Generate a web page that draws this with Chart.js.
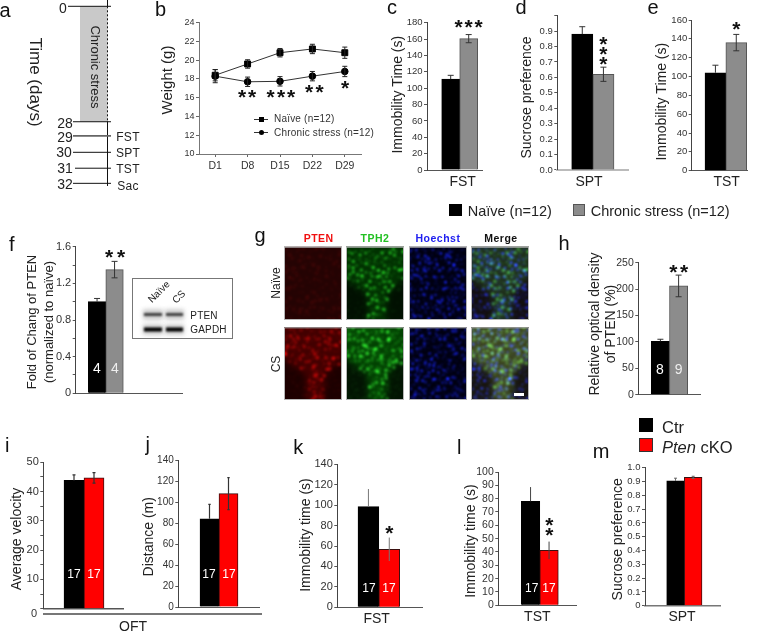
<!DOCTYPE html>
<html><head><meta charset="utf-8">
<script src="https://cdn.jsdelivr.net/npm/chart.js@4"></script>
<style>
html,body{margin:0;padding:0;background:#fff}
#page{position:relative;width:759px;height:631px;overflow:hidden;font-family:"Liberation Sans",Arial,sans-serif}
#page canvas{position:absolute;left:0;top:0}
.n{position:absolute;white-space:nowrap;line-height:1;color:#222;z-index:30}
.sw{position:absolute;z-index:30;box-sizing:border-box}
#blot{position:absolute;left:132px;top:278px;width:101px;height:61px;box-sizing:border-box;border:1.5px solid #777;background:#fff}
</style></head><body><div id="page"><div id="blot"></div></div>
<script>
// ---------- data ----------
const timelineDays=['0','28','29','30','31','32'];
const timelineRows=[0,7.33,8.23,9.27,10.28,11.24];
const timelineStart=[68,73,73,73,75,73];
const timelineTests=['','','FST','SPT','TST','Sac'];

const weekLabels=['D1','D8','D15','D22','D29'];
const weightNaive=[18.4,19.6,20.8,21.2,20.8];
const weightNaiveErr=[0.6,0.45,0.45,0.5,0.6];
const weightStress=[18.3,17.7,17.75,18.3,18.8];
const weightStressErr=[0.7,0.5,0.5,0.5,0.55];
const weightTicks=[10,12,14,16,18,20,22,24];

const stressGroups=['Naïve','Chronic stress'];
const ckoGroups=['Ctr','Pten cKO'];

const fstStress=[111,160.5], fstStressErr=[4.7,5];
const fstStressTicks=[0,20,40,60,80,100,120,140,160,180];
const sptStress=[0.88,0.62], sptStressErr=[0.048,0.046];
const sptStressTicks=[0,.1,.2,.3,.4,.5,.6,.7,.8,.9,1];
const sptStressLabels=['0.0','0.1','0.2','0.3','0.4','0.5','0.6','0.7','0.8','0.9',''];
const tstStress=[104,136], tstStressErr=[8,8.7];
const tstStressTicks=[0,20,40,60,80,100,120,140,160];

const ptenBlot=[1.0,1.35], ptenBlotErr=[0.035,0.09];
const ptenBlotTicks=[0,.2,.4,.6,.8,1,1.2,1.4,1.6];
const ptenBlotLabels=['0','','0.4','','0.8','','1.2','','1.6'];
const ptenDensity=[101,206], ptenDensityErr=[4,20.5];
const ptenDensityTicks=[0,50,100,150,200,250];

const velocity=[43.8,44.7], velocityErr=[1.9,1.8];
const velocityTicks=[0,5,10,15,20,25,30,35,40,45,50];
const velocityLabels=['','','10','','20','','30','','40','','50'];
const distance=[84,108], distanceErr=[13.7,15.3];
const distanceTicks=[0,20,40,60,80,100,120,140];
const fstCko=[98.5,56.8], fstCkoErr=[17.3,11.5];
const fstCkoTicks=[0,20,40,60,80,100,120,140];
const tstCko=[78,41.2], tstCkoErr=[10.7,6.6];
const tstCkoTicks=[0,10,20,30,40,50,60,70,80,90,100];
const sptCko=[0.904,0.93], sptCkoErr=[0.02,0.008];
const sptCkoTicks=[0,.1,.2,.3,.4,.5,.6,.7,.8,.9,1];
const sptCkoLabels=['0','0.1','0.2','0.3','0.4','0.5','0.6','0.7','0.8','0.9','1.0'];

// ---------- helpers ----------
const page=document.getElementById('page');
const FONT='"Liberation Sans", Arial, sans-serif';
function newCanvas(z){const c=document.createElement('canvas');c.width=759;c.height=631;c.style.zIndex=z;page.appendChild(c);return c;}
function note(t,x,y,o={}){
  const s=document.createElement('span');s.className='n';s.innerHTML=t;
  s.style.left=x+'px';s.style.top=y+'px';
  s.style.fontSize=(o.size||12)+'px';
  if(o.color)s.style.color=o.color;
  if(o.weight)s.style.fontWeight=o.weight;
  if(o.spacing)s.style.letterSpacing=o.spacing+'px';
  const tx=o.left?'0':'-50%';
  s.style.transform=`translate(${tx},-50%)`+(o.rot?` rotate(${o.rot}deg)`:'');
  page.appendChild(s);
}
function letter(t,x,base){note(t,x,base-0.346*20,{size:20,color:'#111'});}
function stars(xs,ys){xs.forEach((x,i)=>note('*',x,ys[i]+1.8,{size:21,color:'#111',weight:'bold'}));}
function swatch(x,y,w,h,bg,bd){const d=document.createElement('div');d.className='sw';
  Object.assign(d.style,{left:x+'px',top:y+'px',width:w+'px',height:h+'px',background:bg,border:bd?('1px solid '+bd):'none'});page.appendChild(d);return d;}
function pinTitle(s,cx,cy){
  if(s._pinned)return;s._pinned=true;const o=s.drawTitle;
  s.drawTitle=function(){const c=this.ctx,f=Chart.helpers.toFont(this.options.title.font);
    const left=this.position==='left';
    const nx=left?this.left+f.lineHeight/2:(this.left+this.right)/2;
    const ny=left?(this.top+this.bottom)/2:this.bottom-f.lineHeight/2;
    c.save();c.translate(cx-nx,cy-ny);o.call(this);c.restore();};
}
const errorBars={id:'errorBars',afterDatasetsDraw(chart){
  const {ctx,scales:{x,y}}=chart;
  chart.data.datasets.forEach((d,di)=>{
    if(!d.err)return;
    d.data.forEach((p,i)=>{
      const v=typeof p==='object'?p.y:p;
      const px=chart.getDatasetMeta(di).data[i].x;
      const hi=y.getPixelForValue(v+d.err[i]),lo=y.getPixelForValue(v-d.err[i]),mid=y.getPixelForValue(v);
      const bg=Array.isArray(d.backgroundColor)?d.backgroundColor[i]:null;
      const showLow=d.showLow||bg!=='#000000';
      const capW=d.errCap==null?3:d.errCap;
      ctx.save();ctx.strokeStyle=d.errColor||'#333';ctx.lineWidth=d.errWidth||1;ctx.beginPath();
      const bottom=showLow?lo:mid;
      ctx.moveTo(px,hi);ctx.lineTo(px,bottom);
      if(capW){ctx.moveTo(px-capW,hi);ctx.lineTo(px+capW,hi);
      if(showLow){ctx.moveTo(px-capW,lo);ctx.lineTo(px+capW,lo);}}
      ctx.stroke();ctx.restore();
    });
  });
}};
const SCALE_W=30,SCALE_H=30;
function tickOptions(vals,labs,size){
  return {autoSkip:false,padding:1.5,color:'#333',font:{family:FONT,size:size},
    callback:(v,i)=>labs?labs[i]:String(vals[i])};
}
function barPanel(p){
  const w=(p.barR-p.barL)/2;
  const xMin=1-(p.barL+w/2-p.axisX)/w, xMax=1+(p.xEnd-p.barL-w/2)/w;
  new Chart(newCanvas(10),{type:'bar',plugins:[errorBars],
   data:{labels:p.cats,datasets:[{
     label:p.title.join(' '),
     data:p.values.map((v,i)=>({x:i+1,y:v})),
     backgroundColor:p.colors,borderColor:p.borders,borderWidth:1,
     barThickness:w,err:p.err,errColor:p.errColor,errCap:p.errCap,errWidth:p.errWidth}]},
   options:{responsive:false,animation:false,devicePixelRatio:1,
    layout:{autoPadding:false,padding:{left:p.axisX-SCALE_W,right:759-p.xEnd,top:p.yTop,bottom:631-p.yBottom-SCALE_H}},
    plugins:{legend:{display:false},tooltip:{enabled:false},title:{display:false}},
    scales:{
     x:{type:'linear',offset:false,min:xMin,max:xMax,grid:{display:false,offset:false},
        ticks:{display:false},
        border:{color:p.xAxisColor||'#555',width:p.xAxisWidth||1},
        title:p.xLabel?{display:true,text:p.xLabel,padding:0,color:'#222',font:{family:FONT,size:14}}:{display:false},
        afterFit(s){s.height=SCALE_H;if(p.xLabel)pinTitle(s,p.xLabelPos[0],p.xLabelPos[1]);}},
     y:{type:'linear',min:p.tickVals[0],max:p.tickVals[p.tickVals.length-1],
        grid:{drawOnChartArea:false,drawTicks:true,tickLength:p.tickLen||3,color:'#555',tickColor:'#555'},
        border:{color:'#444',width:1},
        ticks:tickOptions(p.tickVals,p.tickLabels,p.tickSize||10),
        afterBuildTicks(s){s.ticks=p.tickVals.map(v=>({value:v}));},
        title:{display:true,text:p.title.length>1?p.title:p.title[0],padding:0,color:'#222',
               font:{family:FONT,size:p.titleSize||14,lineHeight:p.titleLH||1.2}},
        afterFit(s){s.width=SCALE_W;pinTitle(s,p.titlePos[0],p.titlePos[1]);}}
    }}});
}
const BLACK='#000000',GRAY='#8c8c8c',GRAYB='#555555',RED='#ff0000',REDB='#3a1010';

// ---------- panel a ----------
const aSets=timelineRows.map((r,i)=>({data:[{x:timelineStart[i],y:r},{x:111,y:r}],showLine:true,pointRadius:0,
   borderColor:i===2?'#666':'#111',borderWidth:i===2?1.6:1}));
aSets.push({data:[{x:107.5,y:-0.4},{x:107.5,y:0}],showLine:true,pointRadius:0,borderColor:'#111',borderWidth:1});
aSets.push({data:[{x:107.5,y:0},{x:107.5,y:timelineRows[1]}],showLine:true,pointRadius:0,borderColor:'#111',borderWidth:1,borderDash:[2,2]});
aSets.push({data:[{x:107.5,y:timelineRows[1]},{x:107.5,y:11.4}],showLine:true,pointRadius:0,borderColor:'#111',borderWidth:1});
new Chart(newCanvas(10),{type:'scatter',
 plugins:[{id:'stressBand',beforeDatasetsDraw(c){const {ctx,scales:{x,y}}=c;ctx.save();ctx.fillStyle='#c9c9c9';
   ctx.fillRect(x.getPixelForValue(80),y.getPixelForValue(0),x.getPixelForValue(107.5)-x.getPixelForValue(80),y.getPixelForValue(timelineRows[1])-y.getPixelForValue(0));ctx.restore();}}],
 data:{datasets:aSets},
 options:{responsive:false,animation:false,devicePixelRatio:1,
  layout:{autoPadding:false,padding:{left:60,right:759-115,top:0,bottom:631-185.85}},
  plugins:{legend:{display:false},tooltip:{enabled:false}},
  scales:{x:{type:'linear',min:60,max:115,display:false},y:{type:'linear',min:-0.4,max:11.4,reverse:true,display:false}}}});
const aLabelX=[63,65,65,64,65,65], aLabelY=[8,123,137,152,168,184], aTestY=[0,0,137,153,169,186];
timelineDays.forEach((d,i)=>{note(d,aLabelX[i],aLabelY[i],{size:14,color:'#222'});
  if(timelineTests[i])note(timelineTests[i],128,aTestY[i],{size:12,color:'#222',spacing:.3});});
note('Time (days)',35,82,{size:17,rot:90,color:'#222'});
note('Chronic stress',95,67,{size:13,rot:90,color:'#222'});

// ---------- panel b ----------
new Chart(newCanvas(10),{type:'line',plugins:[errorBars],
 data:{labels:weekLabels,datasets:[
  {label:'Naïve (n=12)',data:weightNaive,err:weightNaiveErr,errCap:2.5,showLow:true,errColor:'#222',borderColor:'#333',borderWidth:1,tension:0,
   pointStyle:'rect',pointRadius:4.2,pointBackgroundColor:'#000',pointBorderColor:'#000'},
  {label:'Chronic stress (n=12)',data:weightStress,err:weightStressErr,errCap:2.5,showLow:true,errColor:'#222',borderColor:'#333',borderWidth:1,tension:0,
   pointStyle:'circle',pointRadius:3.3,pointBackgroundColor:'#000',pointBorderColor:'#000'}]},
 options:{responsive:false,animation:false,devicePixelRatio:1,
  layout:{autoPadding:false,padding:{left:199-SCALE_W,right:759-361,top:22.7,bottom:631-154-SCALE_H}},
  plugins:{legend:{display:false},tooltip:{enabled:false}},
  scales:{
   x:{type:'category',offset:true,grid:{drawOnChartArea:false,drawTicks:true,tickLength:3,tickColor:'#666',offset:false},
      border:{color:'#777',width:1},
      ticks:{color:'#333',padding:3,maxRotation:0,font:{family:FONT,size:10.5}},
      afterFit(s){s.height=SCALE_H;}},
   y:{type:'linear',min:10,max:24,grid:{drawOnChartArea:false,drawTicks:true,tickLength:3,tickColor:'#666'},
      border:{color:'#777',width:1},
      ticks:tickOptions(weightTicks,null,9),
      afterBuildTicks(s){s.ticks=weightTicks.map(v=>({value:v}));},
      title:{display:true,text:'Weight (g)',padding:0,color:'#222',font:{family:FONT,size:15}},
      afterFit(s){s.width=SCALE_W;pinTitle(s,168,80);}}
  }}});
swatch(254,118.5,14,1,'#333');swatch(258.5,116.5,5,5,'#000');
swatch(254,132,14,1,'#333');swatch(258.5,130,5,5,'#000').style.borderRadius='50%';
note('Naïve (n=12)',274,119,{size:10,left:true,color:'#333',spacing:.2});
note('Chronic stress (n=12)',274,132.5,{size:10,left:true,color:'#333',spacing:.2});
stars([242,252],[94,94]);stars([270.5,281,291],[94,94,94]);stars([309,319.5],[89,89]);stars([345],[85]);

// ---------- panels c d e ----------
barPanel({cats:stressGroups,values:fstStress,err:fstStressErr,colors:[BLACK,GRAY],borders:[BLACK,GRAYB],
 axisX:427,xEnd:482,yTop:22.7,yBottom:170,barL:441.7,barR:477.7,tickVals:fstStressTicks,tickSize:9.5,
 title:['Immobility Time (s)'],titlePos:[398,94.7],xLabel:'FST',xLabelPos:[462.7,181.7]});
barPanel({cats:stressGroups,values:sptStress,err:sptStressErr,colors:[BLACK,GRAY],borders:[BLACK,GRAYB],
 axisX:557.3,xEnd:628,yTop:15.6,yBottom:170,barL:571.7,barR:614,tickVals:sptStressTicks,tickLabels:sptStressLabels,tickSize:9.5,
 xAxisColor:'#bbb',xAxisWidth:2,
 title:['Sucrose preference'],titlePos:[526.7,97.5],xLabel:'SPT',xLabelPos:[589,181.7]});
barPanel({cats:stressGroups,values:tstStress,err:tstStressErr,colors:[BLACK,GRAY],borders:[BLACK,GRAYB],
 axisX:691.7,xEnd:747,yTop:20,yBottom:170.7,barL:705,barR:746.7,tickVals:tstStressTicks,tickSize:9.5,
 title:['Immobility Time (s)'],titlePos:[661.7,101.7],xLabel:'TST',xLabelPos:[726.7,181.7]});
stars([458.5,468.7,478.5],[24,24,24]);
stars([603.3,603.3,603.3],[40.7,50.7,60.7]);
stars([736.3],[26]);
swatch(449.3,204,12.4,12,'#000');
note(stressGroups[0]+' (n=12)',467.7,211,{size:14.5,left:true,color:'#222'});
swatch(572.7,204,12.4,12,GRAY,GRAYB);
note(stressGroups[1]+' (n=12)',590.7,211,{size:14.5,left:true,color:'#222'});

// ---------- panel f ----------
barPanel({cats:stressGroups,values:ptenBlot,err:ptenBlotErr,colors:[BLACK,GRAY],borders:[BLACK,GRAYB],
 axisX:75.7,xEnd:183,yTop:246.7,yBottom:393.3,barL:88.3,barR:123.3,tickVals:ptenBlotTicks,tickLabels:ptenBlotLabels,tickSize:11,
 title:['Fold of Chang of PTEN','(normalized to naïve)'],titleSize:13,titleLH:1.25,titlePos:[32.7,322]});
note('4',97,368,{size:14,color:'#fff'});note('4',115,368,{size:14,color:'#eee'});
stars([109,121],[254,254]);
note('Naïve',158.5,292,{size:10,rot:-45,color:'#222'});
note('CS',179,297,{size:10,rot:-45,color:'#222'});
note('PTEN',204,315.7,{size:10,color:'#222',spacing:.2});
note('GAPDH',208.5,329.7,{size:10,color:'#222',spacing:.2});

// ---------- panel h ----------
barPanel({cats:stressGroups,values:ptenDensity,err:ptenDensityErr,colors:[BLACK,GRAY],borders:[BLACK,GRAYB],
 axisX:638.3,xEnd:700,yTop:262.7,yBottom:394.7,barL:651.3,barR:687.7,tickVals:ptenDensityTicks,tickSize:10.5,
 title:['Relative optical density','of PTEN (%)'],titleSize:14,titleLH:1.12,titlePos:[595,324]});
note('8',660,369.3,{size:14,color:'#fff'});note('9',678.7,369.3,{size:14,color:'#eee'});
stars([673.3,684],[269.3,269.3]);

// ---------- panels i j k l m ----------
barPanel({cats:ckoGroups,values:velocity,err:velocityErr,colors:[BLACK,RED],borders:[BLACK,REDB],errCap:1.5,errWidth:1.2,
 axisX:43.3,xEnd:123.3,yTop:462.3,yBottom:608.7,barL:64,barR:104,tickVals:velocityTicks,tickLabels:velocityLabels,tickSize:11,
 xAxisColor:'#555',xAxisWidth:1.5,
 title:['Average velocity'],titlePos:[17.3,539]});
note('0',34,613,{size:11,color:'#333'});
barPanel({cats:ckoGroups,values:distance,err:distanceErr,colors:[BLACK,RED],borders:[BLACK,REDB],errCap:1.2,errWidth:1.2,
 axisX:178.3,xEnd:259,yTop:460,yBottom:607,barL:200,barR:238,tickVals:distanceTicks,tickSize:10,
 title:['Distance (m)'],titlePos:[149,536.8]});
barPanel({cats:ckoGroups,values:fstCko,err:fstCkoErr,colors:[BLACK,RED],borders:[BLACK,REDB],errCap:0,errColor:'#777',
 axisX:337.3,xEnd:422.7,yTop:464.3,yBottom:607.3,barL:358,barR:399.7,tickVals:fstCkoTicks,tickSize:11,
 title:['Immobility time (s)'],titlePos:[305.7,535],xLabel:'FST',xLabelPos:[376.7,619]});
barPanel({cats:ckoGroups,values:tstCko,err:tstCkoErr,colors:[BLACK,RED],borders:[BLACK,REDB],errCap:0,errColor:'#444',
 axisX:498.3,xEnd:576.7,yTop:472,yBottom:605.3,barL:521.3,barR:558.3,tickVals:tstCkoTicks,tickSize:10.5,
 title:['Immobility time (s)'],titlePos:[471,541],xLabel:'TST',xLabelPos:[537.3,617.3]});
barPanel({cats:ckoGroups,values:sptCko,err:sptCkoErr,colors:[BLACK,RED],borders:[BLACK,REDB],errCap:1.5,errColor:'#666',
 axisX:645,xEnd:720,yTop:467.7,yBottom:605.7,barL:666.7,barR:702,tickVals:sptCkoTicks,tickLabels:sptCkoLabels,tickSize:9.5,
 xAxisColor:'#777',xAxisWidth:1.5,
 title:['Sucrose preference'],titlePos:[617.7,539.3],xLabel:'SPT',xLabelPos:[682,616.7]});
[[74,573.7],[94,573.7],[209,574],[229,574],[369,588.3],[389,588.3],[531.7,588.3],[549,588.3]].forEach(q=>note('17',q[0],q[1],{size:12,color:'#fff'}));
swatch(43,613.3,219,1.5,'#777');
note('OFT',133,625.7,{size:14,color:'#222'});
stars([389.3],[530]);stars([549.3,549.3],[521.7,532.3]);
swatch(639,418.3,14,14,'#000');
swatch(639,438.3,14,14,RED,'#333');
note(ckoGroups[0],662,426.7,{size:16.5,left:true,color:'#222'});
note('<i>Pten</i> cKO',662,446.7,{size:16.5,left:true,color:'#222'});

// ---------- panel letters ----------
[['a',5,16.7],['b',160.5,15.7],['c',392,14],['d',521,14],['e',653,14],['f',11.7,251],['g',260,242.3],['h',564,250],
 ['i',7.3,451.7],['j',147.7,451],['k',298.3,454.3],['l',459.3,454],['m',601,458.3]].forEach(a=>letter(a[0],a[1],a[2]));

// ---------- panel g headers ----------
note('PTEN',318.7,238,{size:10.5,weight:'bold',color:'#f01010',spacing:.5});
note('TPH2',375,238,{size:10.5,weight:'bold',color:'#22c022',spacing:.5});
note('Hoechst',438,238,{size:10.5,weight:'bold',color:'#2020f0',spacing:.5});
note('Merge',501,238,{size:10.5,weight:'bold',color:'#111',spacing:.5});
note('Naïve',276,283,{size:12,rot:-90,color:'#222'});
note('CS',276,364,{size:12,rot:-90,color:'#222'});

// ---------- micrograph texture and blot (image content, not chart data) ----------
const art=newCanvas(5).getContext('2d');
// deterministic texture hash, only used for the photographic speckle of panel g
function tex(i,s){const a=Math.sin(i*12.9898+s*78.233)*43758.5453;return a-Math.floor(a);}
function funnel(u,v){const hw=v<.38?.62:.62-.44*Math.min(1,(v-.38)/.27);return Math.abs(u-.55)<hw?1:.1;}
function cells(x,y,w,h,rgb,n,seed,masked,alpha,rad){
  for(let i=1;i<=n;i++){
    const u=(i*.754877+seed*.13+(tex(i,seed)-.5)*.05)%1,v=(i*.56984+seed*.29+(tex(i,seed+1)-.5)*.05)%1,k=tex(i,seed+2);
    const m=masked?funnel(u,v):1;
    art.fillStyle=`rgba(${rgb},${(alpha*m*(.12+.88*k*k)).toFixed(3)})`;
    art.beginPath();art.arc(x+u*w,y+v*h,rad*(.75+.4*k),0,7);art.fill();}
}
function glow(x,y,w,h,col){
  art.save();art.filter='blur(3px)';
  art.fillStyle=col;art.beginPath();
  art.moveTo(x-5,y-5);art.lineTo(x+w+5,y-5);art.lineTo(x+w+5,y+h*.36);
  art.lineTo(x+w*.72,y+h*.64);art.lineTo(x+w*.68,y+h+5);art.lineTo(x+w*.4,y+h+5);art.lineTo(x+w*.36,y+h*.64);
  art.lineTo(x-5,y+h*.4);art.closePath();art.fill();art.restore();
}
function tile(x,y,w,h,bg,fn){
  art.save();art.fillStyle=bg;art.fillRect(x,y,w,h);
  art.beginPath();art.rect(x,y,w,h);art.clip();
  art.globalCompositeOperation='lighter';art.filter='blur(0.8px)';fn();
  art.restore();
  art.strokeStyle='#b5b5b5';art.lineWidth=1;art.strokeRect(x+.5,y+.5,w-1,h-1);
}
const colX=[284,346,409,471],rowY=[246.7,327.3],tw=58,th=[73.3,72.7];
// row 0
let x=colX[0],y=rowY[0];
tile(x,y,tw,th[0],'#240303',()=>cells(x,y,tw,th[0],'60,5,5',200,0,false,.35,2));
x=colX[1];tile(x,y,tw,th[0],'#011001',()=>{glow(x,y,tw,th[0],'rgba(0,55,0,.6)');cells(x,y,tw,th[0],'50,220,50',190,3,true,.6,1.7);});
x=colX[2];tile(x,y,tw,th[0],'#000010',()=>cells(x,y,tw,th[0],'25,40,255',300,11,false,.75,1.3));
x=colX[3];tile(x,y,tw,th[0],'#120e0e',()=>{glow(x,y,tw,th[0],'rgba(20,55,20,.6)');cells(x,y,tw,th[0],'25,40,255',260,11,false,.75,1.4);cells(x,y,tw,th[0],'70,210,70',170,3,true,.55,1.7);});
// row 1
y=rowY[1];
x=colX[0];tile(x,y,tw,th[1],'#1c0000',()=>{glow(x,y,tw,th[1],'rgba(70,0,0,.55)');cells(x,y,tw,th[1],'170,10,10',240,7,true,.55,1.8);});
x=colX[1];tile(x,y,tw,th[1],'#021402',()=>{glow(x,y,tw,th[1],'rgba(0,75,0,.6)');cells(x,y,tw,th[1],'60,220,60',240,19,true,.6,1.8);});
x=colX[2];tile(x,y,tw,th[1],'#000010',()=>cells(x,y,tw,th[1],'25,40,255',300,41,false,.75,1.3));
x=colX[3];tile(x,y,tw,th[1],'#17140f',()=>{glow(x,y,tw,th[1],'rgba(60,80,25,.6)');cells(x,y,tw,th[1],'25,40,255',240,41,false,.75,1.4);cells(x,y,tw,th[1],'95,210,85',240,19,true,.55,1.8);});
swatch(514,393,10,2.5,'#fff');
// blot bands
const bandXs=[[143,20],[165,19]],bandRows=[[314.5,2.4,'#222'],[329.5,4,'#000']];
art.save();
bandXs.forEach(b=>bandRows.forEach(r=>{
  art.filter='blur(2px)';art.fillStyle='#c8c8c8';art.fillRect(b[0],r[0]-5,b[1],10);
}));
bandXs.forEach(b=>bandRows.forEach(r=>{
  art.filter='blur(0.8px)';art.fillStyle=r[2];art.fillRect(b[0]+1,r[0]-r[1]/2,b[1]-2,r[1]);
}));
art.restore();
</script></body></html>
